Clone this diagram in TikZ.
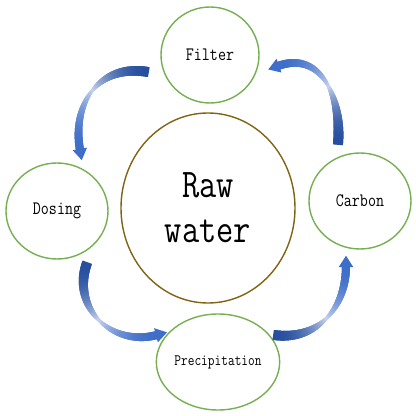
\documentclass[tikz,border=0pt]{standalone}
\usepackage{fontspec}
\usepackage{tikz}
\usepackage{xcolor}
\usetikzlibrary{shapes.geometric, decorations.markings}

\definecolor{stagegreen}{RGB}{118,175,82}
\definecolor{rawbrown}{RGB}{128,100,20}
\definecolor{arrdark}{RGB}{38,78,158}
\definecolor{arrlight}{RGB}{196,210,238}
\definecolor{arrhead}{RGB}{62,110,200}

% squeezed typewriter labels
\newcommand{\narrowtxt}[1]{\scalebox{0.82}[1]{#1}}

\tikzset{
  stage/.style={ellipse, draw=stagegreen, line width=1pt, inner sep=0pt,
    minimum width=25.5mm, minimum height=24mm,
    font=\ttfamily\fontsize{13.5}{15}\selectfont},
  ribbon/.style={decoration={markings,
    mark=between positions 0 and 1 step 0.005 with {
      \pgfmathsetmacro{\rt}{(\pgfkeysvalueof{/pgf/decoration/mark info/sequence number}-1)/200}
      \pgfmathsetlengthmacro{\rw}{(\rt<0.5 ? 2.1+4.9*(1-(2*\rt)^2) : 2.1+3.6*(1-(2-2*\rt)^2))/2}
      \pgfmathtruncatemacro{\rp}{\rt<0.5 ? 100*(1-(2*\rt)^2) : 100*(1-(2-2*\rt)^2)}
      \ifdim\rt pt<0.5pt \def\rc{arrdark}\else\def\rc{arrhead}\fi
      \fill[\rc!\rp!arrlight] (-0.6pt,-\rw) rectangle (0.6pt,\rw);
    },
    mark=at position 0.999 with {
      \fill[arrhead] (-0.6pt,-5.2pt) -- (7.5pt,0pt) -- (-0.6pt,5.2pt) -- cycle;
    }},
    postaction={decorate}}
}

\begin{document}
\begin{tikzpicture}[x=0.25mm, y=0.25mm]
\useasboundingbox (0,0) rectangle (416,416);

% Centre
\node[ellipse, draw=rawbrown, line width=1pt, inner sep=0pt,
  minimum width=43.5mm, minimum height=47.5mm, align=center,
  font=\ttfamily\fontsize{29}{32}\selectfont] (raw) at (208,208)
  {\narrowtxt{Raw}\\\narrowtxt{water}};

% Treatment stages
\node[stage, minimum width=24.5mm] (filter) at (210,361) {\narrowtxt{Filter}};
\node[stage] (carbon) at (360,215) {\narrowtxt{Carbon}};
\node[stage, font=\ttfamily\fontsize{11.3}{13}\selectfont] (precip) at (218,54) {\narrowtxt{Precipitation}};
\node[stage] (dosing) at (57,205) {\narrowtxt{Dosing}};

% Arrow ends
\coordinate (filterout) at (148,344);
\coordinate (dosingin) at (80,266);
\coordinate (dosingout) at (87,153);
\coordinate (precipin) at (157,81);
\coordinate (precipout) at (274,81);
\coordinate (carbonin) at (346,150);
\coordinate (carbonout) at (338,272);
\coordinate (filterin) at (278,350);

% Curved arrows round the cycle
\path[ribbon] (filterout) to[out=170, in=100, looseness=1.2] (dosingin);
\path[ribbon] (dosingout) to[out=-110, in=195, looseness=1.2] (precipin);
\path[ribbon] (precipout) to[out=-8, in=-90, looseness=1.1] (carbonin);
\path[ribbon] (carbonout) to[out=85, in=20, looseness=1.2] (filterin);
\end{tikzpicture}
\end{document}
